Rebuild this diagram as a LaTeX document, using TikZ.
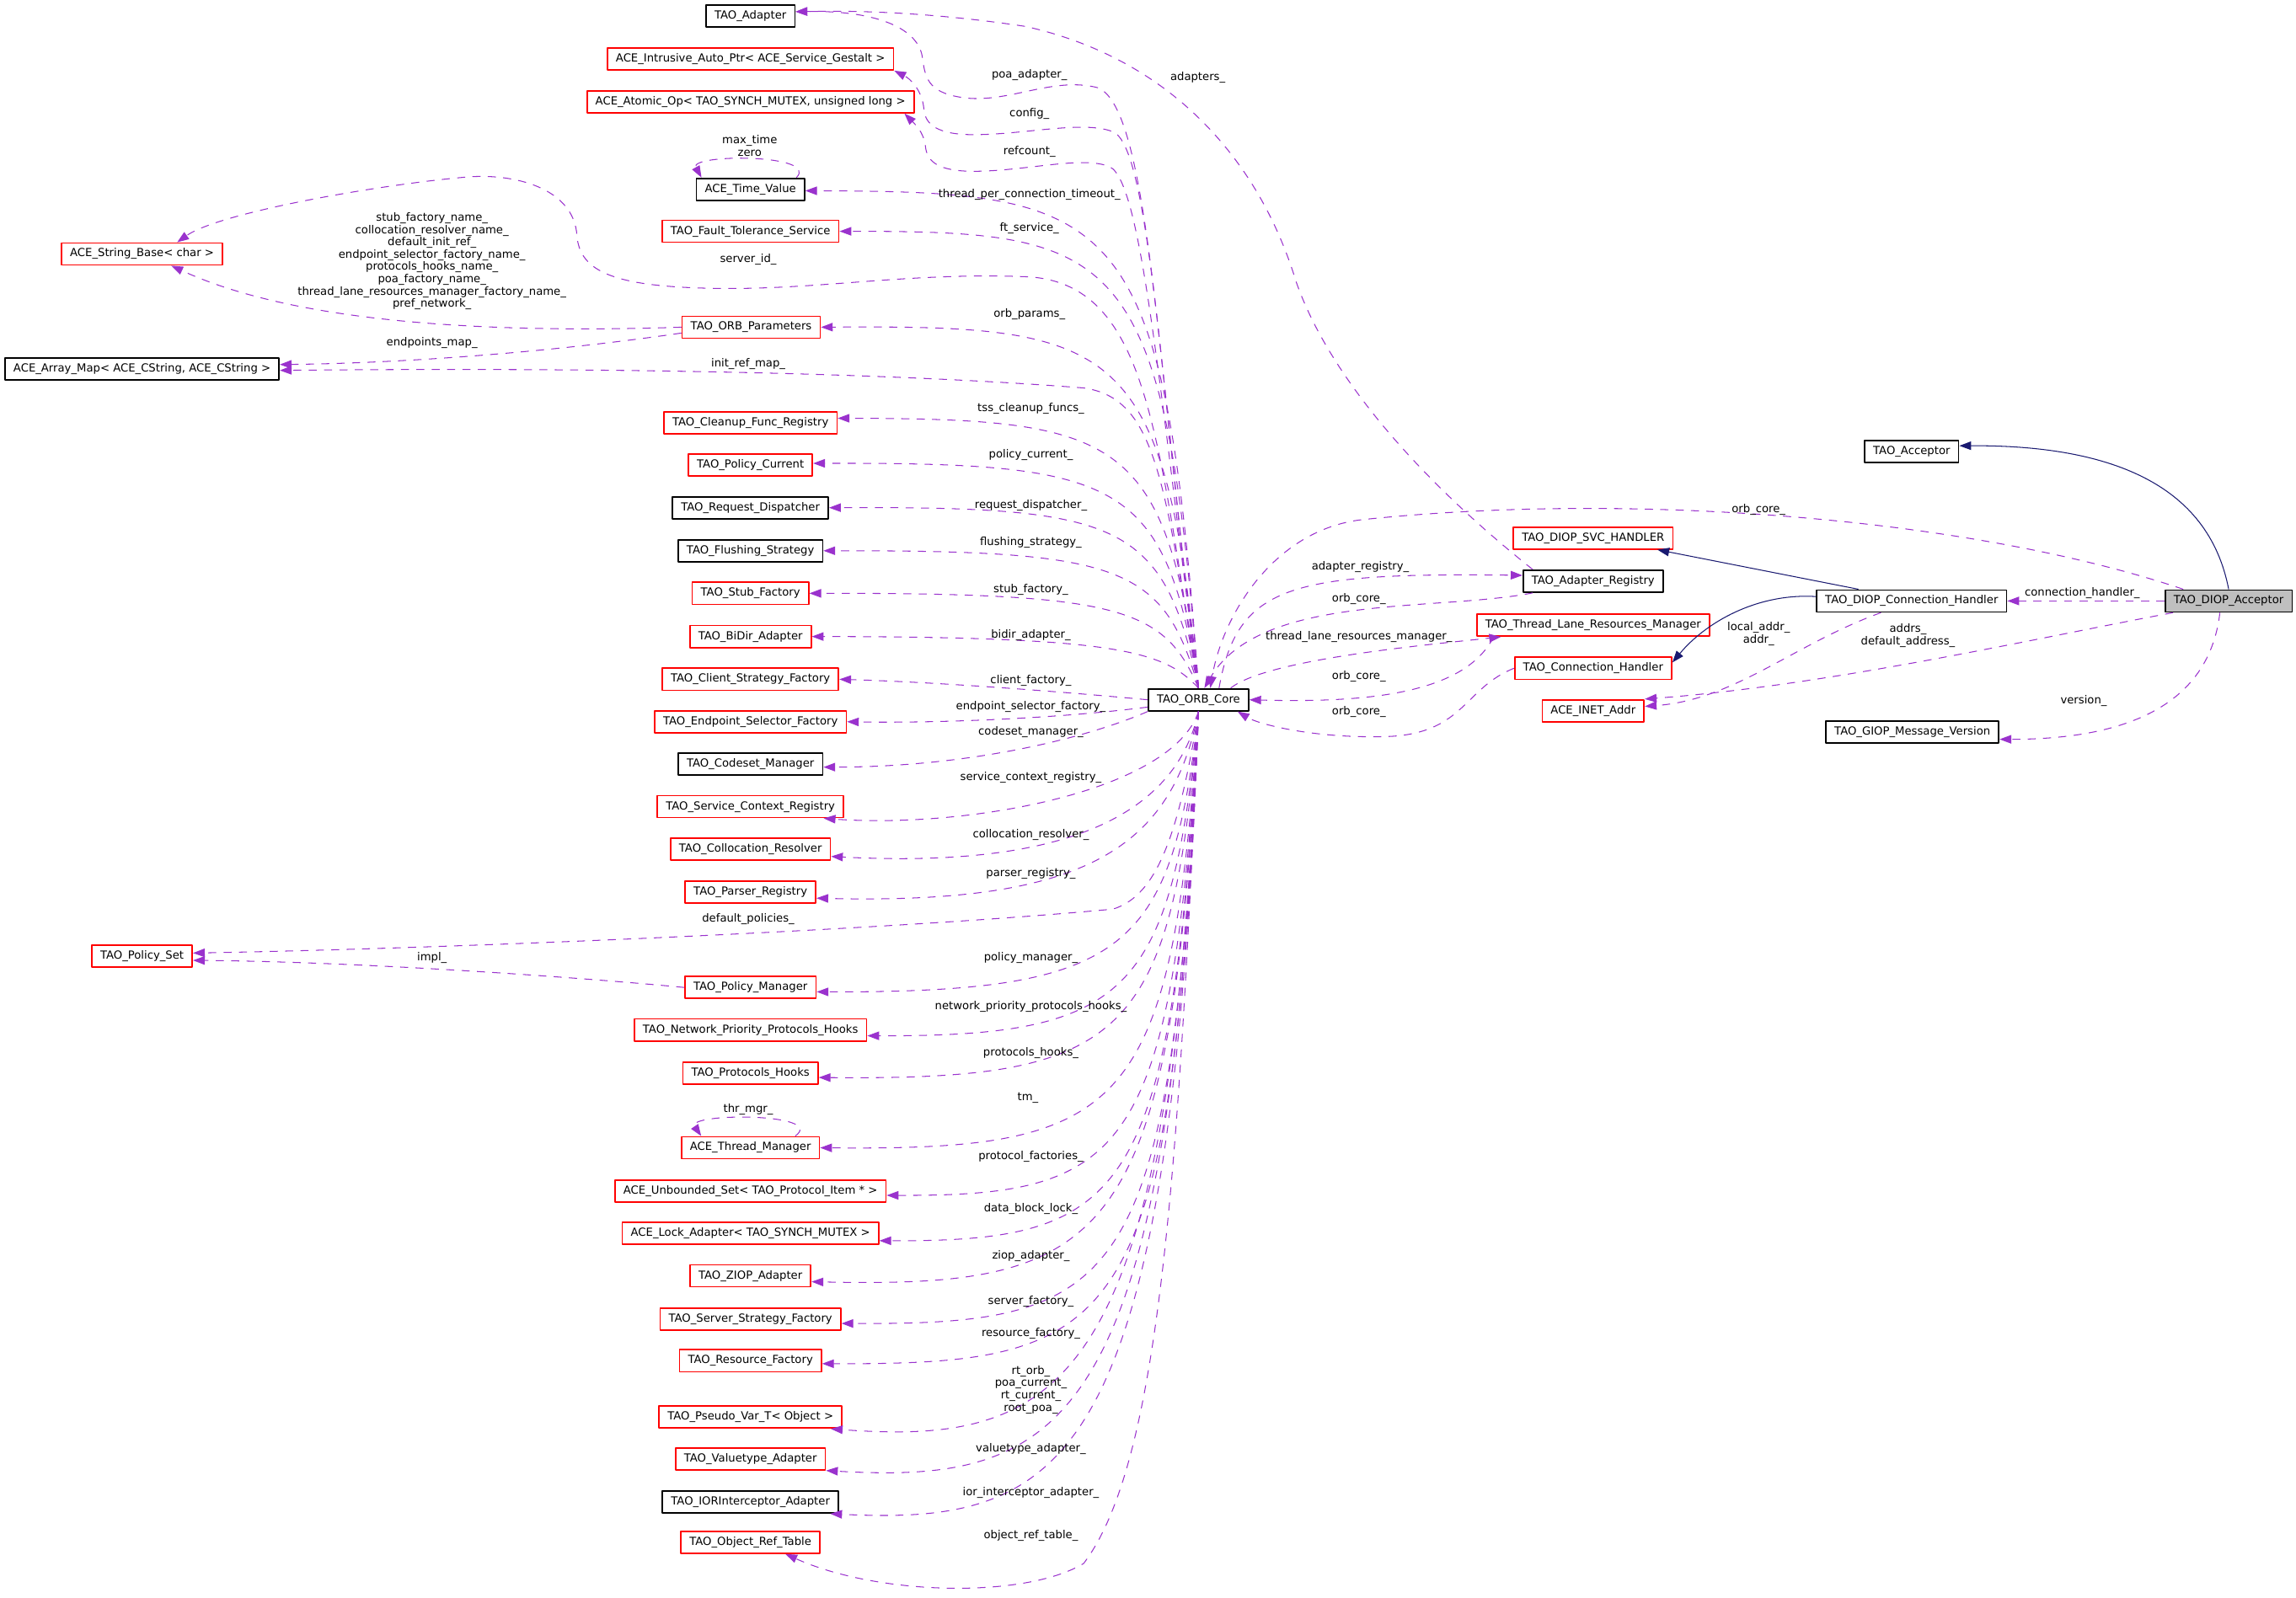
\documentclass[tikz,border=0pt]{standalone}
\usepackage{fontspec}
\setmainfont{DejaVu Sans}
\usetikzlibrary{arrows.meta}
\definecolor{orchid}{HTML}{9A32CD}
\definecolor{navy}{HTML}{191970}
\definecolor{boxred}{HTML}{FF0000}
\definecolor{selfgray}{HTML}{BFBFBF}
\begin{document}
\begin{tikzpicture}[x=1pt,y=-1pt,>={Triangle[length=8pt,width=5.8pt]}, line join=round,
    cls/.style={draw=black,line width=1pt,fill=white,minimum height=15pt,inner xsep=5.8pt,inner ysep=0pt,font=\fontsize{7.6}{8.4}\selectfont},
    part/.style={cls,draw=boxred},
    self/.style={cls,fill=selfgray},
    lbl/.style={inner sep=0pt,align=center,font=\fontsize{7.6}{8.4}\selectfont},
    mem/.style={->,draw=orchid,line width=0.6pt,dash pattern=on 5.5pt off 5pt},
    isa/.style={->,draw=navy,line width=0.6pt}]
\useasboundingbox (0,0) rectangle (1568,1091);
% member classes, left column
\node[cls] (adapter) at (512.5,11) {TAO\_Adapter};
\node[part] (gestalt) at (512.5,40.3) {ACE\_Intrusive\_Auto\_Ptr< ACE\_Service\_Gestalt >};
\node[part] (atomic) at (512.5,69.5) {ACE\_Atomic\_Op< TAO\_SYNCH\_MUTEX, unsigned long >};
\node[cls] (timeval) at (512.5,129.3) {ACE\_Time\_Value};
\node[part] (ftserv) at (512.5,158) {TAO\_Fault\_Tolerance\_Service};
\node[part] (strbase) at (97,173.5) {ACE\_String\_Base< char >};
\node[part] (orbparams) at (513,223.5) {TAO\_ORB\_Parameters};
\node[cls] (arraymap) at (97,252) {ACE\_Array\_Map< ACE\_CString, ACE\_CString >};
\node[part] (cleanup) at (512.5,288.7) {TAO\_Cleanup\_Func\_Registry};
\node[part] (polcur) at (512.5,317.5) {TAO\_Policy\_Current};
\node[cls] (reqdisp) at (512.5,346.8) {TAO\_Request\_Dispatcher};
\node[cls] (flush) at (512.5,376.2) {TAO\_Flushing\_Strategy};
\node[part] (stubfac) at (512.5,405.3) {TAO\_Stub\_Factory};
\node[part] (bidir) at (512.5,434.8) {TAO\_BiDir\_Adapter};
\node[part] (clientfac) at (512.5,464) {TAO\_Client\_Strategy\_Factory};
\node[part] (endpfac) at (512.5,493) {TAO\_Endpoint\_Selector\_Factory};
\node[cls] (codeset) at (512.5,522) {TAO\_Codeset\_Manager};
\node[part] (svcctx) at (512.5,551) {TAO\_Service\_Context\_Registry};
\node[part] (colloc) at (512.5,580) {TAO\_Collocation\_Resolver};
\node[part] (parser) at (512.5,609.5) {TAO\_Parser\_Registry};
\node[part] (polset) at (97,653) {TAO\_Policy\_Set};
\node[part] (polman) at (512.5,674.5) {TAO\_Policy\_Manager};
\node[part] (netprio) at (512.5,703.5) {TAO\_Network\_Priority\_Protocols\_Hooks};
\node[part] (prothooks) at (512.5,733) {TAO\_Protocols\_Hooks};
\node[part] (thrman) at (512.5,784) {ACE\_Thread\_Manager};
\node[part] (protset) at (512.5,813.5) {ACE\_Unbounded\_Set< TAO\_Protocol\_Item * >};
\node[part] (lockad) at (512.5,842.5) {ACE\_Lock\_Adapter< TAO\_SYNCH\_MUTEX >};
\node[part] (ziop) at (512.5,871.5) {TAO\_ZIOP\_Adapter};
\node[part] (srvfac) at (512.5,901) {TAO\_Server\_Strategy\_Factory};
\node[part] (resfac) at (512.5,929.5) {TAO\_Resource\_Factory};
\node[part] (pseudo) at (512.5,968) {TAO\_Pseudo\_Var\_T< Object >};
\node[part] (valtype) at (512.5,996.5) {TAO\_Valuetype\_Adapter};
\node[cls] (iorint) at (512.5,1026) {TAO\_IORInterceptor\_Adapter};
\node[part] (objref) at (512.5,1053.5) {TAO\_Object\_Ref\_Table};
% core and right part
\node[cls] (core) at (818.5,478) {TAO\_ORB\_Core};
\node[part] (svch) at (1088,367.5) {TAO\_DIOP\_SVC\_HANDLER};
\node[cls] (adreg) at (1088,397) {TAO\_Adapter\_Registry};
\node[part] (tlrm) at (1088,427) {TAO\_Thread\_Lane\_Resources\_Manager};
\node[part] (connh) at (1088,456.5) {TAO\_Connection\_Handler};
\node[part] (inet) at (1088,485.5) {ACE\_INET\_Addr};
\node[cls] (acc) at (1305.5,308.5) {TAO\_Acceptor};
\node[cls] (dconnh) at (1305.5,410.5) {TAO\_DIOP\_Connection\_Handler};
\node[self] (dacc) at (1522,410.5) {TAO\_DIOP\_Acceptor};
\node[cls] (giop) at (1306,500) {TAO\_GIOP\_Message\_Version};
% members of TAO_ORB_Core, upper half
\draw[mem] (core.north) .. controls (790,250) and (785,75) .. (750,60) .. controls (720,52) and (690,70) .. (660,67) .. controls (635,64) and (632,55) .. (630,40) .. controls (628,20) and (600,7) .. ([yshift=3pt]adapter.east);
\draw[mem] (core.north) .. controls (792,260) and (785,100) .. (760,90) .. controls (740,82) and (700,92) .. (665,92) .. controls (640,92) and (632,85) .. (631,75) .. controls (630,62) and (622,54) .. (gestalt.south east);
\draw[mem] (core.north) .. controls (792,270) and (780,125) .. (758,114) .. controls (740,106) and (700,117) .. (665,117) .. controls (640,117) and (633,110) .. (632,100) .. controls (631,90) and (624,84) .. ([xshift=-7pt]atomic.south east);
\draw[mem] (core.north) .. controls (795,141) and (765,131) .. ([yshift=-1pt]timeval.east);
\draw[mem] ([xshift=-6pt]timeval.north east) .. controls (560,105) and (470,105) .. ([xshift=4pt]timeval.north west);
\draw[mem] (core.north) .. controls (795,168) and (765,158) .. (ftserv.east);
\draw[mem] (core.north) .. controls (790,300) and (785,192) .. (700,189) .. controls (620,186) and (560,198) .. (490,197) .. controls (420,196) and (396,186) .. (394,161) .. controls (392,128) and (350,118) .. (318,121) .. controls (260,126) and (150,145) .. ([xshift=24pt]strbase.north);
\draw[mem] (orbparams.west) .. controls (330,228) and (200,220) .. ([xshift=20pt]strbase.south);
\draw[mem] (core.north) .. controls (795,233) and (765,222) .. (orbparams.east);
\draw[mem] ([yshift=-4pt]orbparams.west) .. controls (380,240) and (280,248) .. ([yshift=3pt]arraymap.east);
\draw[mem] (core.north) .. controls (795,330) and (790,272) .. (740,265) .. controls (600,254) and (400,251) .. ([yshift=-1pt]arraymap.east);
\draw[mem] (core.north) .. controls (795,298) and (765,286) .. ([yshift=3pt]cleanup.east);
\draw[mem] (core.north) .. controls (795,327) and (765,316) .. ([yshift=1pt]polcur.east);
\draw[mem] (core.north) .. controls (795,356) and (765,346) .. (reqdisp.east);
\draw[mem] (core.north) .. controls (795,386) and (765,376) .. (flush.east);
\draw[mem] (core.north) .. controls (795,415) and (765,405) .. (stubfac.east);
\draw[mem] (core.north) .. controls (795,445) and (765,435) .. (bidir.east);
\draw[mem] (core.west) .. controls (720,472) and (640,466) .. (clientfac.east);
\draw[mem] ([yshift=-5pt]core.west) .. controls (720,491) and (640,494) .. (endpfac.east);
% members of TAO_ORB_Core, lower half
\draw[mem] (core.south west) .. controls (740,505) and (660,524) .. ([yshift=-2pt]codeset.east);
\draw[mem] (core.south) .. controls (800,541) and (660,566) .. ([xshift=-14pt]svcctx.south east);
\draw[mem] (core.south) .. controls (800,570) and (700,592) .. ([yshift=-5pt]colloc.east);
\draw[mem] (core.south) .. controls (800,580) and (740,618) .. ([yshift=-4pt]parser.east);
\draw[mem] (core.south) .. controls (805,570) and (790,612) .. (760,621) .. controls (600,636) and (300,648) .. ([yshift=2pt]polset.east);
\draw[mem] (polman.west) .. controls (400,668) and (250,657) .. ([yshift=-3pt]polset.east);
\draw[mem] (core.south) .. controls (800,650) and (770,678) .. ([yshift=-3pt]polman.east);
\draw[mem] (core.south) .. controls (800,680) and (770,708) .. ([yshift=-4pt]netprio.east);
\draw[mem] (core.south) .. controls (800,710) and (770,738) .. ([yshift=-3pt]prothooks.east);
\draw[mem] (core.south) .. controls (800,760) and (770,786) .. (thrman.east);
\draw[mem] ([xshift=-17pt]thrman.north east) .. controls (565,760) and (468,760) .. ([xshift=14pt]thrman.north west);
\draw[mem] (core.south) .. controls (800,790) and (770,817) .. ([yshift=-3pt]protset.east);
\draw[mem] (core.south) .. controls (800,820) and (770,848) .. ([yshift=-5pt]lockad.east);
\draw[mem] (core.south) .. controls (800,850) and (760,880) .. ([yshift=-4pt]ziop.east);
\draw[mem] (core.south) .. controls (800,880) and (770,905) .. ([yshift=-3pt]srvfac.east);
\draw[mem] (core.south) .. controls (800,910) and (770,932) .. ([yshift=-2pt]resfac.east);
\draw[mem] (core.south) .. controls (800,945) and (730,988) .. ([xshift=-8pt]pseudo.south east);
\draw[mem] (core.south) .. controls (800,975) and (730,1014) .. (valtype.south east);
\draw[mem] (core.south) .. controls (800,1003) and (730,1042) .. ([xshift=-6pt]iorint.south east);
\draw[mem] (core.south) .. controls (805,800) and (792,1000) .. (740,1068) .. controls (700,1092) and (600,1090) .. ([xshift=-24pt]objref.south east);
% right part
\draw[mem] ([xshift=-31pt]dacc.north) .. controls (1350,355) and (1120,335) .. (930,355) .. controls (870,362) and (835,420) .. ([xshift=8pt]core.north);
\draw[isa] (dacc.north) .. controls (1508,330) and (1440,304) .. ([yshift=4pt]acc.east);
\draw[mem] (dacc.west) -- (dconnh.east);
\draw[isa] ([xshift=29pt]dconnh.north west) -- ([xshift=-11pt]svch.south east);
\draw[isa] ([yshift=3pt]dconnh.west) .. controls (1200,405) and (1165,425) .. ([yshift=4pt]connh.east);
\draw[mem] ([xshift=-21pt]dconnh.south) .. controls (1225,440) and (1185,478) .. ([yshift=3pt]inet.east);
\draw[mem] ([xshift=-38pt]dacc.south) .. controls (1390,436) and (1250,468) .. (inet.north east);
\draw[mem] ([xshift=-6pt]dacc.south) .. controls (1510,470) and (1470,505) .. ([yshift=-5pt]giop.east);
\draw[mem] ([xshift=7pt]adreg.north west) .. controls (960,320) and (905,250) .. (885,192) .. controls (860,110) and (800,40) .. (700,18) .. controls (640,9) and (590,7) .. ([yshift=3pt]adapter.east);
\draw[mem] ([xshift=14pt]core.north) .. controls (845,400) and (880,391) .. ([yshift=4pt]adreg.west);
\draw[mem] ([xshift=7pt]adreg.south west) .. controls (980,418) and (860,405) .. ([xshift=4pt]core.north);
\draw[mem] ([xshift=22pt]core.north) .. controls (865,450) and (980,440) .. ([xshift=17pt]tlrm.south west);
\draw[mem] ([xshift=12pt]tlrm.south west) .. controls (1000,475) and (930,480) .. (core.east);
\draw[mem] (connh.west) .. controls (1000,470) and (1000,500) .. (950,503) .. controls (900,505) and (860,495) .. ([xshift=-8pt]core.south east);
% edge labels
\node[lbl] (lpoa) at (703,51) {poa\_adapter\_};
\node[lbl] (ladapters) at (818,53) {adapters\_};
\node[lbl] (lconfig) at (703,77.7) {config\_};
\node[lbl] (lrefcount) at (703,103.6) {refcount\_};
\node[lbl] (ltimes) at (512,99.5) {max\_time\\zero};
\node[lbl] (ltpc) at (703,132.7) {thread\_per\_connection\_timeout\_};
\node[lbl] (lft) at (703,156) {ft\_service\_};
\node[lbl] (lserverid) at (511,177) {server\_id\_};
\node[lbl] (lnames) at (295,178.5) {stub\_factory\_name\_\\collocation\_resolver\_name\_\\default\_init\_ref\_\\endpoint\_selector\_factory\_name\_\\protocols\_hooks\_name\_\\poa\_factory\_name\_\\thread\_lane\_resources\_manager\_factory\_name\_\\pref\_network\_};
\node[lbl] (lorbparams) at (703,214.4) {orb\_params\_};
\node[lbl] (lendpoints) at (295,234) {endpoints\_map\_};
\node[lbl] (linitref) at (511,248.5) {init\_ref\_map\_};
\node[lbl] (ltss) at (704,279) {tss\_cleanup\_funcs\_};
\node[lbl] (lpolcur) at (704,310.7) {policy\_current\_};
\node[lbl] (lreqdisp) at (704,345) {request\_dispatcher\_};
\node[lbl] (lflush) at (704,370.5) {flushing\_strategy\_};
\node[lbl] (lstub) at (704,403) {stub\_factory\_};
\node[lbl] (lbidir) at (704,434) {bidir\_adapter\_};
\node[lbl] (lclient) at (704,465) {client\_factory\_};
\node[lbl] (lendp) at (704,482.7) {endpoint\_selector\_factory\_};
\node[lbl] (lcodeset) at (704,500) {codeset\_manager\_};
\node[lbl] (lsvcctx) at (704,531) {service\_context\_registry\_};
\node[lbl] (lcolloc) at (704,570) {collocation\_resolver\_};
\node[lbl] (lparser) at (704,596.6) {parser\_registry\_};
\node[lbl] (ldefpol) at (511,628) {default\_policies\_};
\node[lbl] (limpl) at (295,654) {impl\_};
\node[lbl] (lpolman) at (704,654) {policy\_manager\_};
\node[lbl] (lnetprio) at (704,687.6) {network\_priority\_protocols\_hooks\_};
\node[lbl] (lprothooks) at (704,719) {protocols\_hooks\_};
\node[lbl] (ltm) at (702,750) {tm\_};
\node[lbl] (lthrmgr) at (511,758) {thr\_mgr\_};
\node[lbl] (lprotfac) at (704,790) {protocol\_factories\_};
\node[lbl] (llock) at (704,826) {data\_block\_lock\_};
\node[lbl] (lziop) at (704,858) {ziop\_adapter\_};
\node[lbl] (lsrvfac) at (704,889) {server\_factory\_};
\node[lbl] (lresfac) at (704,911) {resource\_factory\_};
\node[lbl] (lpseudo) at (704,949.3) {rt\_orb\_\\poa\_current\_\\rt\_current\_\\root\_poa\_};
\node[lbl] (lvaltype) at (704,990) {valuetype\_adapter\_};
\node[lbl] (liorint) at (704,1019.5) {ior\_interceptor\_adapter\_};
\node[lbl] (lobjref) at (704,1049) {object\_ref\_table\_};
\node[lbl] (ladreg) at (929,387) {adapter\_registry\_};
\node[lbl] (lcore1) at (928,409) {orb\_core\_};
\node[lbl] (ltlrm) at (928,435) {thread\_lane\_resources\_manager\_};
\node[lbl] (lcore2) at (928,462) {orb\_core\_};
\node[lbl] (lcore3) at (928,486) {orb\_core\_};
\node[lbl] (lcore4) at (1201,348) {orb\_core\_};
\node[lbl] (lconnh) at (1422,405) {connection\_handler\_};
\node[lbl] (laddr) at (1201,433) {local\_addr\_\\addr\_};
\node[lbl] (laddrs) at (1303,434) {addrs\_\\default\_address\_};
\node[lbl] (lversion) at (1423,479) {version\_};
\end{tikzpicture}
\end{document}
